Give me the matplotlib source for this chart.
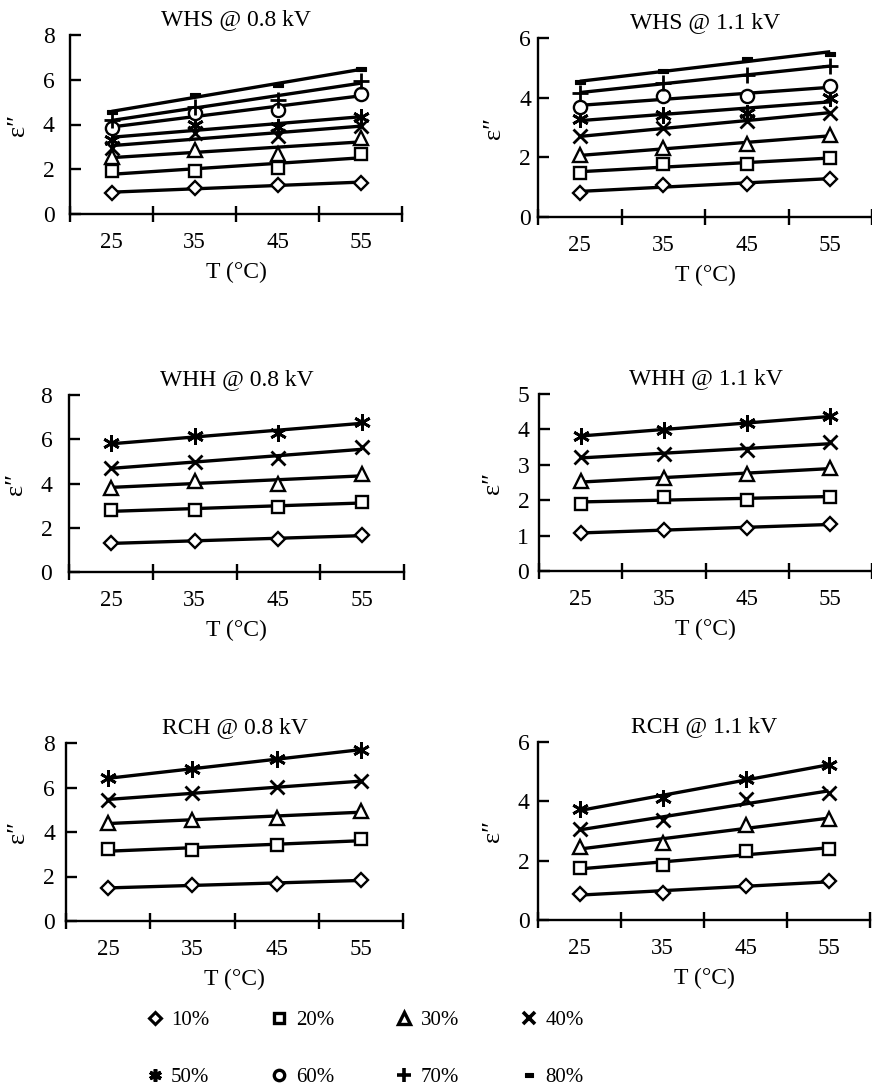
import numpy as np
import matplotlib
matplotlib.use('Agg')
import matplotlib.pyplot as plt
from matplotlib.lines import Line2D
from matplotlib.path import Path

plt.rcParams['font.family'] = ['Liberation Serif', 'DejaVu Serif']

# ---------------- data ----------------
temps = [25, 35, 45, 55]
levels = ['10%', '20%', '30%', '40%', '50%', '60%', '70%', '80%']
xtick_labels = ['25', '35', '45', '55']

# each row = one moisture level, values at 25, 35, 45, 55 °C
whs_08 = [[0.95, 1.15, 1.30, 1.40],
          [1.90, 1.94, 2.05, 2.68],
          [2.55, 2.85, 2.70, 3.38],
          [2.93, 3.60, 3.50, 3.93],
          [3.30, 4.00, 3.90, 4.35],
          [3.85, 4.50, 4.64, 5.35],
          [4.20, 4.80, 5.10, 5.95],
          [4.55, 5.30, 5.76, 6.48]]
whs_11 = [[0.82, 1.07, 1.12, 1.28],
          [1.46, 1.78, 1.78, 1.97],
          [2.07, 2.30, 2.45, 2.75],
          [2.70, 2.97, 3.23, 3.50],
          [3.30, 3.42, 3.48, 3.98],
          [3.70, 4.06, 4.04, 4.38],
          [4.15, 4.50, 4.76, 5.05],
          [4.52, 4.88, 5.30, 5.48]]
whh_08 = [[1.31, 1.39, 1.51, 1.66],
          [2.79, 2.82, 2.94, 3.17],
          [3.80, 4.12, 4.00, 4.42],
          [4.72, 4.98, 5.13, 5.63],
          [5.81, 6.14, 6.29, 6.79]]
whh_11 = [[1.08, 1.16, 1.21, 1.33],
          [1.90, 2.10, 2.01, 2.10],
          [2.53, 2.62, 2.75, 2.91],
          [3.22, 3.31, 3.42, 3.63],
          [3.82, 3.99, 4.18, 4.37]]
rch_08 = [[1.50, 1.61, 1.65, 1.86],
          [3.22, 3.19, 3.41, 3.67],
          [4.42, 4.54, 4.62, 4.96],
          [5.44, 5.77, 6.02, 6.27],
          [6.42, 6.83, 7.28, 7.70]]
rch_11 = [[0.88, 0.92, 1.15, 1.30],
          [1.75, 1.86, 2.31, 2.39],
          [2.45, 2.59, 3.21, 3.40],
          [3.06, 3.36, 4.08, 4.28],
          [3.74, 4.11, 4.75, 5.24]]

titles = ['WHS @ 0.8 kV', 'WHS @ 1.1 kV', 'WHH @ 0.8 kV',
          'WHH @ 1.1 kV', 'RCH @ 0.8 kV', 'RCH @ 1.1 kV']
panel_data = [whs_08, whs_11, whh_08, whh_11, rch_08, rch_11]
ymaxes = [8, 6, 8, 5, 8, 6]
ysteps = [2, 2, 2, 1, 2, 2]

# ---------------- styles ----------------
dash = Path([(-1, -0.45), (1, -0.45), (1, 0.45), (-1, 0.45), (-1, -0.45)],
            [Path.MOVETO, Path.LINETO, Path.LINETO, Path.LINETO, Path.CLOSEPOLY])
mstyles = [
    dict(marker='D', ms=7.5, mfc='white', mew=1.7),
    dict(marker='s', ms=9, mfc='white', mew=1.7),
    dict(marker='^', ms=9.5, mfc='white', mew=1.7),
    dict(marker='x', ms=10, mew=2.0),
    dict(marker=(6, 2, 0), ms=12, mew=2.0),
    dict(marker='o', ms=9.5, mfc='white', mew=1.7),
    dict(marker='+', ms=12, mew=2.0),
    dict(marker=dash, ms=7, mfc='black', mew=0.8),
]

W, H = 872, 1089
# axes boxes in pixels: left, right, top, bottom
boxes = [(70, 402, 35, 214), (538, 872, 38, 217),
         (69, 404, 395, 572), (539, 872, 394, 571),
         (66, 403, 743, 921), (538, 870, 742, 920)]
ypads = [11, 5, 12, 7, 8, 6]

fig = plt.figure(figsize=(W / 100, H / 100), dpi=100)

for i, (l, r, t, b) in enumerate(boxes):
    ax = fig.add_axes([l / W, 1 - b / H, (r - l) / W, (b - t) / H])
    data = panel_data[i]
    for j, vals in enumerate(data):
        coef = np.polyfit(temps, vals, 1)
        xs = np.array([temps[0], temps[-1]])
        ax.plot(xs, np.polyval(coef, xs), color='black', lw=2.4,
                solid_capstyle='butt', zorder=2)
    for j, vals in enumerate(data):
        ax.plot(temps, vals, ls='none', color='black', mec='black',
                zorder=3, clip_on=False, **mstyles[j])
    ax.set_xlim(20, 60)
    ax.set_ylim(0, ymaxes[i])
    for s in ['top', 'right']:
        ax.spines[s].set_visible(False)
    for s in ['left', 'bottom']:
        ax.spines[s].set_linewidth(1.7)
    ax.set_xticks([20, 30, 40, 50, 60])
    ax.set_xticks(temps, minor=True)
    ax.set_xticklabels(xtick_labels, minor=True)
    ax.tick_params(axis='x', which='major', direction='inout', length=11,
                   width=1.7, labelbottom=False)
    ax.tick_params(axis='x', which='minor', length=0, pad=13, labelsize=16.5)
    ax.set_yticks(np.arange(0, ymaxes[i] + 0.01, ysteps[i]))
    ax.tick_params(axis='y', direction='in', length=8, width=1.7,
                   pad=ypads[i], labelsize=17)
    ax.set_title(titles[i], fontsize=17, pad=7)
    ax.set_xlabel('T (°C)', fontsize=17, labelpad=6)
    ax.set_ylabel('ε″', fontsize=19, labelpad=10)
    ax.patch.set_visible(False)

# ---------------- legend ----------------
leg_styles = [
    dict(marker='D', ms=6, mfc='white', mew=2.2),
    dict(marker='s', ms=7.5, mfc='white', mew=2.4),
    dict(marker='^', ms=8, mfc='white', mew=2.4),
    dict(marker='x', ms=8, mew=2.6),
    dict(marker=(6, 2, 0), ms=9, mew=2.6),
    dict(marker='o', ms=7.5, mfc='white', mew=2.4),
    dict(marker='+', ms=10, mew=2.6),
    dict(marker=dash, ms=6, mfc='black', mew=0.8),
]
handles = [Line2D([], [], ls='none', color='black', mec='black', **st)
           for st in leg_styles]
order = [0, 4, 1, 5, 2, 6, 3, 7]
fig.legend([handles[k] for k in order], [levels[k] for k in order],
           ncol=4, loc='center', bbox_to_anchor=(364 / W, 1 - 1049 / H),
           frameon=False, fontsize=15, handlelength=1.0, handletextpad=0.3,
           columnspacing=2.85, labelspacing=1.8, borderpad=0)

fig.savefig('out.png', dpi=100)
